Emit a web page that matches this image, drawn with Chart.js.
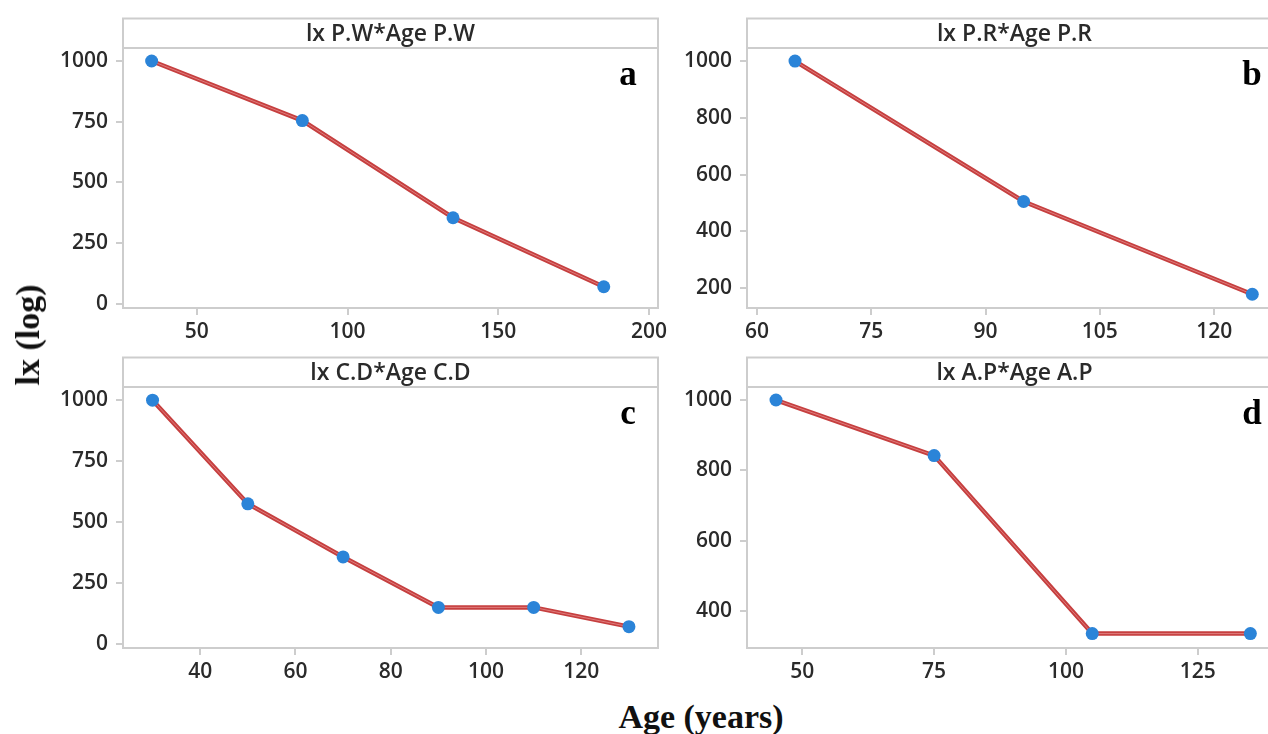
<!DOCTYPE html>
<html><head><meta charset="utf-8">
<script src="https://cdn.jsdelivr.net/npm/chart.js@4.4.0/dist/chart.umd.min.js"></script>
<style>
html,body{margin:0;padding:0;background:#fff;overflow:hidden;width:1268px;height:734px;position:relative}
canvas{position:absolute}
.ylab{position:absolute;left:28px;top:335px;transform:translate(-50%,-50%) rotate(-90deg);font:bold 34px "Liberation Serif",serif;white-space:nowrap;color:#111}
.xlab{position:absolute;left:701px;top:717px;transform:translate(-50%,-50%);font:bold 34px "Liberation Serif",serif;white-space:nowrap;color:#111}
</style></head><body>
<canvas id="ca" width="680" height="350" style="left:0;top:0"></canvas>
<canvas id="cb" width="620" height="350" style="left:680px;top:0"></canvas>
<canvas id="cc" width="680" height="350" style="left:0;top:340px"></canvas>
<canvas id="cd" width="620" height="350" style="left:680px;top:340px"></canvas>
<div class="ylab">lx (log)</div>
<div class="xlab">Age (years)</div>
<script>
// ---- data ----
const titleA = 'lx P.W*Age P.W';
const ageA = [35, 85, 135, 185];
const lxA = [1000, 755, 355, 71];
const xTicksA = [50, 100, 150, 200];
const yTicksA = [0, 250, 500, 750, 1000];

const titleB = 'lx P.R*Age P.R';
const ageB = [65, 95, 125];
const lxB = [1000, 505, 178];
const xTicksB = [60, 75, 90, 105, 120];
const yTicksB = [200, 400, 600, 800, 1000];

const titleC = 'lx C.D*Age C.D';
const ageC = [30, 50, 70, 90, 110, 130];
const lxC = [1000, 575, 357, 150, 150, 71];
const xTicksC = [40, 60, 80, 100, 120];
const yTicksC = [0, 250, 500, 750, 1000];

const titleD = 'lx A.P*Age A.P';
const ageD = [45, 75, 105, 135];
const lxD = [1000, 842, 336, 336];
const xTicksD = [50, 75, 100, 125];
const yTicksD = [400, 600, 800, 1000];

const letters = ['a', 'b', 'c', 'd'];

// ---- drawing ----
const FRAME = '#cdcdcd';
const TXT = '#2a2a2a';
const RED = '#c63f3f';
const RED_LIGHT = '#df7c7c';
const BLUE = '#2b84d8';

const framePlugin = {
  id: 'frame',
  beforeDatasetsDraw(chart, args, opts) {
    const { ctx, chartArea: a } = chart;
    const ht = a.top - 29.5;
    ctx.save();
    ctx.strokeStyle = FRAME; ctx.lineWidth = 2;
    ctx.strokeRect(a.left, ht, a.right - a.left, a.bottom - ht);
    ctx.beginPath(); ctx.moveTo(a.left, a.top); ctx.lineTo(a.right, a.top); ctx.stroke();
    ctx.fillStyle = TXT; ctx.font = '600 23px "Open Sans"';
    ctx.textAlign = 'center'; ctx.textBaseline = 'alphabetic';
    ctx.fillText(opts.title, (a.left + a.right) / 2, ht + 22);
    ctx.fillStyle = '#000'; ctx.font = 'bold 35px "Liberation Serif"';
    ctx.fillText(opts.letter, a.right - 30, a.top + 37);
    ctx.restore();
  }
};

function makeChart(id, title, letter, ages, lx, xTicks, yTicks, xr, yr, yW, padR, padT) {
  const pts = ages.map((x, i) => ({ x: x, y: lx[i] }));
  const tickFont = { family: 'Open Sans', size: 21, weight: '600' };
  new Chart(document.getElementById(id), {
    type: 'line',
    data: {
      datasets: [
        { data: pts, showLine: false, pointRadius: 6.5, pointBackgroundColor: BLUE, pointBorderWidth: 0, clip: false },
        { data: pts, borderColor: RED_LIGHT, borderWidth: 1, pointRadius: 0, clip: false },
        { data: pts, borderColor: RED, borderWidth: 4.5, pointRadius: 0, clip: false }
      ]
    },
    options: {
      responsive: false, animation: false, devicePixelRatio: 1,
      layout: { padding: { left: 0, right: padR, top: padT, bottom: 0 } },
      plugins: { legend: { display: false }, tooltip: { enabled: false }, frame: { title: title, letter: letter } },
      scales: {
        x: {
          type: 'linear', min: xr[0], max: xr[1],
          afterBuildTicks: s => { s.ticks = xTicks.map(v => ({ value: v })); },
          afterFit: s => { s.height = 42; },
          border: { display: false },
          grid: { drawOnChartArea: false, drawTicks: true, tickLength: 7, color: FRAME, lineWidth: 2 },
          ticks: { color: TXT, font: tickFont, padding: 4, maxRotation: 0, callback: v => String(v) }
        },
        y: {
          type: 'linear', min: yr[0], max: yr[1],
          afterBuildTicks: s => { s.ticks = yTicks.map(v => ({ value: v })); },
          afterFit: s => { s.width = yW; },
          border: { display: false },
          grid: { drawOnChartArea: false, drawTicks: true, tickLength: 7, color: FRAME, lineWidth: 2 },
          ticks: { color: TXT, font: tickFont, padding: 8, callback: v => String(v) }
        }
      }
    },
    plugins: [framePlugin]
  });
}

makeChart('ca', titleA, letters[0], ageA, lxA, xTicksA, yTicksA, [25.5, 203], [-16.5, 1053.5], 123, 22, 48);
makeChart('cb', titleB, letters[1], ageB, lxB, xTicksB, yTicksB, [58.7, 128.9], [129.5, 1046], 67, 18, 48);
makeChart('cc', titleC, letters[2], ageC, lxC, xTicksC, yTicksC, [23.8, 136.1], [-16.5, 1054], 123, 22, 47);
makeChart('cd', titleD, letters[3], ageD, lxD, xTicksD, yTicksD, [39.5, 141], [295, 1037], 67, 18, 47);
</script>
</body></html>
